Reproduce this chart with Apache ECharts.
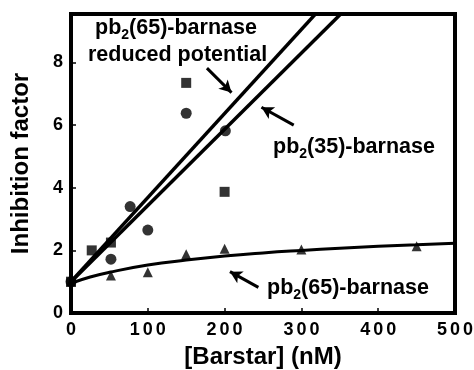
<!DOCTYPE html>
<html>
<head>
<meta charset="utf-8">
<script src="https://cdn.jsdelivr.net/npm/echarts@6/dist/echarts.min.js"></script>
<style>
  html, body { margin: 0; padding: 0; background: #fff; }
  #chart { width: 474px; height: 370px; }
</style>
</head>
<body>
<div id="chart"></div>
<script>
// values
const xTicks = [0, 100, 200, 300, 400, 500];
const yTicks = [0, 2, 4, 6, 8];

const squares = [[0, 1.0], [27, 2.0], [52, 2.25], [150, 7.35], [200, 3.87]];
const circles = [[0, 1.0], [52, 1.72], [77, 3.4], [100, 2.65], [150, 6.38], [201, 5.82]];
const triangles = [[0, 1.0], [52, 1.2], [100, 1.3], [150, 1.88], [200, 2.05], [300, 2.03], [450, 2.13]];

// fitted lines (end points beyond the top, clipped by the axis)
const reducedLine = [[0, 1.0], [350, 10.4]];
const pb35Line = [[0, 1.0], [380, 10.25]];
const pb65Curve = [[0, 0.95], [25, 1.15], [50, 1.3], [100, 1.53], [150, 1.69], [200, 1.82],
  [250, 1.92], [300, 2.0], [350, 2.07], [400, 2.13], [450, 2.18], [500, 2.23]];

// arrows: [tail, head]
const arrows = [
  [[177, 7.82], [209, 7.04]],
  [[290, 6.0], [248, 6.57]],
  [[244, 0.82], [207, 1.32]]
];

const chart = echarts.init(document.getElementById('chart'), null, { renderer: 'canvas' });

const bold = 'Liberation Sans';
const rich = {
  b: { fontFamily: bold, fontWeight: 'bold', fontSize: 21.5, color: '#000' },
  s: { fontFamily: bold, fontWeight: 'bold', fontSize: 14, color: '#000', padding: [14, 0, 0, 0] }
};

// spaced-out tick digits like the original print
const digitRich = { d: { fontFamily: bold, fontWeight: 'bold', fontSize: 18, color: '#000', padding: [0, 1.5, 0, 1.5] } };

chart.setOption({
  animation: false,
  grid: {
    left: 71, right: 19, top: 14, bottom: 57, outerBoundsMode: 'none',
    show: true, borderColor: '#000', borderWidth: 4
  },
  xAxis: {
    type: 'value', min: 0, max: 500, interval: 100,
    name: '[Barstar] (nM)', nameLocation: 'middle', nameGap: 32,
    nameTextStyle: { fontFamily: bold, fontWeight: 'bold', fontSize: 24, color: '#000' },
    axisLine: { show: true, lineStyle: { color: '#000', width: 4 } },
    axisTick: { show: true, inside: true, length: 5, lineStyle: { color: '#000', width: 1.5 } },
    axisLabel: {
      margin: 8,
      formatter: v => String(v).split('').map(c => '{d|' + c + '}').join(''),
      rich: digitRich
    },
    splitLine: { show: false }
  },
  yAxis: {
    type: 'value', min: 0, max: 9.55, interval: 2,
    name: 'Inhibition factor', nameLocation: 'middle', nameGap: 38,
    nameTextStyle: { fontFamily: bold, fontWeight: 'bold', fontSize: 24, color: '#000' },
    axisLine: { show: true, lineStyle: { color: '#000', width: 4 } },
    axisTick: { show: true, inside: true, length: 5, lineStyle: { color: '#000', width: 1.5 } },
    axisLabel: { fontFamily: bold, fontWeight: 'bold', fontSize: 18, color: '#000', margin: 8, showMaxLabel: false },
    splitLine: { show: false }
  },
  series: [
    { type: 'line', data: reducedLine, showSymbol: false, lineStyle: { color: '#000', width: 3.5 }, z: 3 },
    { type: 'line', data: pb35Line, showSymbol: false, lineStyle: { color: '#000', width: 3.5 }, z: 3 },
    { type: 'line', data: pb65Curve, smooth: true, showSymbol: false, lineStyle: { color: '#000', width: 3 }, z: 3 },
    { type: 'scatter', data: squares, symbol: 'rect', symbolSize: 10, itemStyle: { color: '#000' }, z: 4 },
    { type: 'scatter', data: circles, symbol: 'circle', symbolSize: 11, itemStyle: { color: '#000' }, z: 4 },
    { type: 'scatter', data: triangles, symbol: 'triangle', symbolSize: 10, itemStyle: { color: '#000' }, z: 4 },
    {
      type: 'line', data: [], z: 5,
      markLine: {
        silent: true, animation: false,
        symbol: ['none', 'arrow'], symbolSize: [10, 12],
        label: { show: false },
        lineStyle: { color: '#000', width: 3, type: 'solid' },
        data: arrows.map(a => [{ coord: a[0] }, { coord: a[1] }])
      }
    }
  ],
  graphic: [
    { type: 'text', left: 95, top: 17, style: { text: '{b|pb}{s|2}{b|(65)-barnase}', rich } },
    { type: 'text', left: 88, top: 44, style: { text: '{b|reduced potential}', rich } },
    { type: 'text', left: 273, top: 136, style: { text: '{b|pb}{s|2}{b|(35)-barnase}', rich } },
    { type: 'text', left: 267, top: 277, style: { text: '{b|pb}{s|2}{b|(65)-barnase}', rich } }
  ]
});
</script>
</body>
</html>
